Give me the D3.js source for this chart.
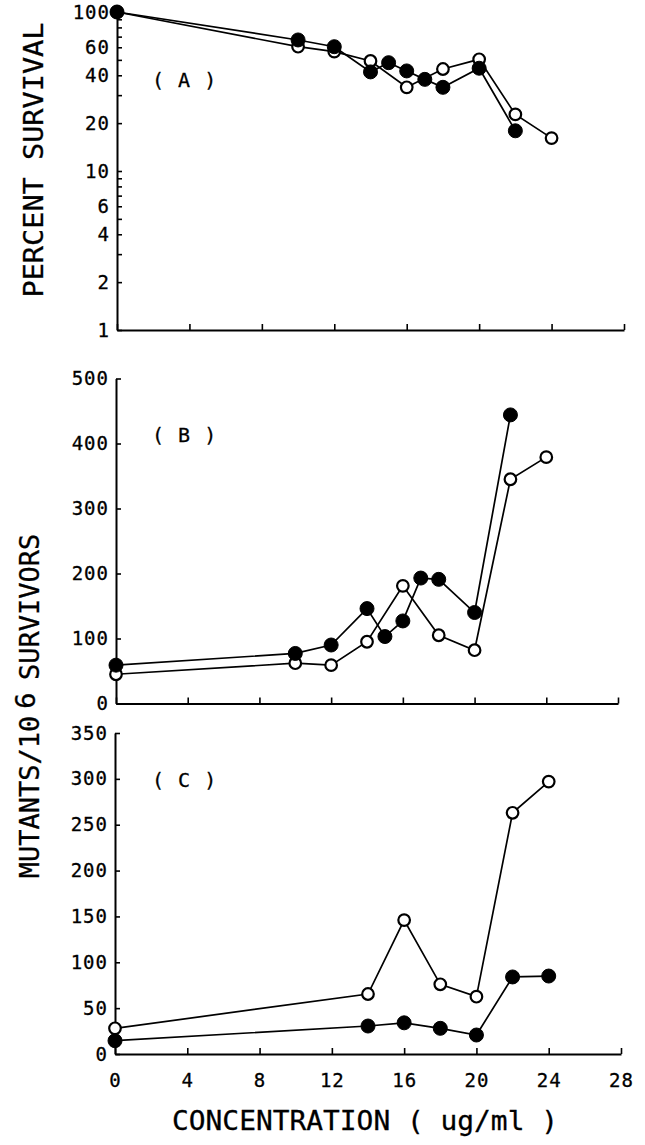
<!DOCTYPE html>
<html>
<head>
<meta charset="utf-8">
<script src="https://cdn.jsdelivr.net/npm/d3@7"></script>
<style>
  html, body { margin: 0; padding: 0; background: #fff; }
  svg { display: block; }
</style>
</head>
<body>
<div id="chart"></div>
<script>
// concentration (ug/ml) for each series
var concClosedA = [0, 10, 12, 14, 15, 16, 17, 18, 20, 22];
var survClosed  = [100, 66.7, 60.5, 42, 48, 42.6, 37.7, 33.6, 44.3, 17.9];
var concOpenA   = [0, 10, 12, 14, 16, 18, 20, 22, 24];
var survOpen    = [100, 60.5, 56.3, 49.2, 33.6, 43.8, 50.4, 22.7, 16.1];

var concClosedB  = [0, 10, 12, 14, 15, 16, 17, 18, 20, 22];
var mutSurvClosed = [59, 77, 90, 146, 103, 127, 193, 191, 140, 444];
var concOpenB    = [0, 10, 12, 14, 16, 18, 20, 22, 24];
var mutSurvOpen  = [45, 62, 59, 95, 181, 105, 82, 345, 379];

var concC       = [0, 14, 16, 18, 20, 22, 24];
var mutClosed   = [14.5, 30.5, 34, 28, 20.7, 84, 85];
var mutOpen     = [28, 65.4, 146, 76, 62.5, 263, 297];

var xTicks  = [0, 4, 8, 12, 16, 20, 24, 28];
var yTicksA = [1, 2, 3, 4, 5, 6, 7, 8, 9, 10, 20, 30, 40, 50, 60, 70, 80, 90, 100];
var yLabelsA = [1, 2, 4, 6, 10, 20, 40, 60, 100];
var yTicksB = [0, 100, 200, 300, 400, 500];
var yTicksC = [0, 50, 100, 150, 200, 250, 300, 350];

var font = 'DejaVu Sans Mono';
var W = 645, H = 1145;

var svg = d3.select('#chart').append('svg')
  .attr('width', W)
  .attr('height', H)
  .attr('font-family', font);

// panel geometry
var panels = [
  { name: 'A', x: [117, 624], y: [330, 12], log: true, yDomain: [1, 100],
    ticks: yTicksA, series: [[concOpenA, survOpen, false], [concClosedA, survClosed, true]],
    labelY: 87, xLabels: false },
  { name: 'B', x: [116, 618], y: [703.5, 378.5], log: false, yDomain: [0, 500],
    ticks: yTicksB, series: [[concOpenB, mutSurvOpen, false], [concClosedB, mutSurvClosed, true]],
    labelY: 442, xLabels: false },
  { name: 'C', x: [115, 621], y: [1054, 733], log: false, yDomain: [0, 350],
    ticks: yTicksC, series: [[concC, mutOpen, false], [concC, mutClosed, true]],
    labelY: 787, xLabels: true }
];

panels.forEach(function (p) {
  var x = d3.scaleLinear().domain([0, 28]).range(p.x);
  var y = (p.log ? d3.scaleLog() : d3.scaleLinear()).domain(p.yDomain).range(p.y);
  var g = svg.append('g').attr('class', 'panel-' + p.name);

  // x axis
  var xAxis = d3.axisBottom(x)
    .tickValues(xTicks)
    .tickSizeInner(-6)
    .tickSizeOuter(0)
    .tickPadding(20)
    .tickFormat(p.xLabels ? d3.format('d') : '');
  var gx = g.append('g')
    .attr('transform', 'translate(0,' + p.y[0] + ')')
    .call(xAxis);

  // y axis
  var yAxis = d3.axisLeft(y)
    .tickValues(p.ticks)
    .tickSizeInner(-5)
    .tickSizeOuter(0)
    .tickPadding(7)
    .tickFormat(function (d) {
      if (p.log) return yLabelsA.indexOf(d) > -1 ? d : '';
      return d;
    });
  var gy = g.append('g')
    .attr('transform', 'translate(' + p.x[0] + ',0)')
    .call(yAxis);

  [gx, gy].forEach(function (a) {
    a.select('.domain').attr('stroke', '#000').attr('stroke-width', 2);
    a.selectAll('.tick line').attr('stroke', '#000').attr('stroke-width', 1.6);
    a.selectAll('.tick text')
      .attr('fill', '#000')
      .attr('font-family', font)
      .attr('font-size', 19)
      .attr('letter-spacing', 1)
      .attr('stroke', '#000')
      .attr('stroke-width', 0.3);
  });

  // panel label
  g.append('text')
    .attr('x', 152)
    .attr('y', p.labelY)
    .attr('font-size', 20)
    .attr('letter-spacing', 1)
    .attr('fill', '#000')
    .attr('stroke', '#000')
    .attr('stroke-width', 0.3)
    .attr('xml:space', 'preserve')
    .text('( ' + p.name + ' )');

  var line = d3.line()
    .x(function (d) { return x(d[0]); })
    .y(function (d) { return y(d[1]); });

  p.series.forEach(function (s) {
    var pts = s[0].map(function (c, i) { return [c, s[1][i]]; });
    g.append('path')
      .datum(pts)
      .attr('d', line)
      .attr('fill', 'none')
      .attr('stroke', '#000')
      .attr('stroke-width', 1.7);
  });

  p.series.forEach(function (s) {
    var pts = s[0].map(function (c, i) { return [c, s[1][i]]; });
    g.selectAll(null)
      .data(pts)
      .enter().append('circle')
      .attr('cx', function (d) { return x(d[0]); })
      .attr('cy', function (d) { return y(d[1]); })
      .attr('r', s[2] ? 7 : 5.8)
      .attr('fill', s[2] ? '#000' : '#fff')
      .attr('stroke', '#000')
      .attr('stroke-width', s[2] ? 1 : 2.2);
  });
});

// axis titles
svg.append('text')
  .attr('transform', 'translate(43,160) rotate(-90)')
  .attr('text-anchor', 'middle')
  .attr('font-size', 27)
  .attr('stroke', '#000')
  .attr('stroke-width', 0.3)
  .attr('textLength', 275)
  .attr('lengthAdjust', 'spacingAndGlyphs')
  .text('PERCENT SURVIVAL');

var t2 = svg.append('text')
  .attr('transform', 'translate(39,706) rotate(-90)')
  .attr('text-anchor', 'middle')
  .attr('font-size', 27)
  .attr('stroke', '#000')
  .attr('stroke-width', 0.3);
t2.append('tspan').text('MUTANTS/10');
t2.append('tspan').attr('dy', -4).attr('dx', 7).text('6');
t2.append('tspan').attr('dy', 4).attr('dx', -4).text(' SURVIVORS');

svg.append('text')
  .attr('x', 365)
  .attr('y', 1130)
  .attr('text-anchor', 'middle')
  .attr('font-size', 27)
  .attr('stroke', '#000')
  .attr('stroke-width', 0.3)
  .attr('textLength', 386)
  .attr('lengthAdjust', 'spacingAndGlyphs')
  .attr('xml:space', 'preserve')
  .text('CONCENTRATION ( ug/ml )');
</script>
</body>
</html>
